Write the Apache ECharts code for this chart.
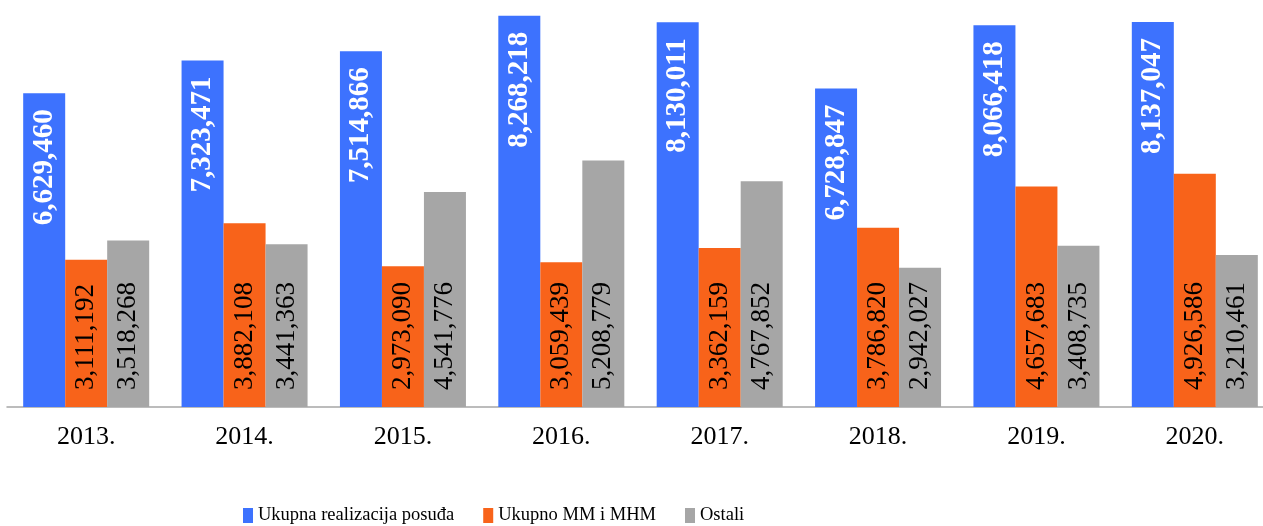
<!DOCTYPE html>
<html>
<head>
<meta charset="utf-8">
<script src="https://cdn.jsdelivr.net/npm/echarts@6/dist/echarts.min.js"></script>
<style>
	html, body { margin: 0; padding: 0; background: #fff; }
	#chart { width: 1263px; height: 526px; }
</style>
</head>
<body>
<div id="chart"></div>
<script>
	// 数据
	var years = ['2013.', '2014.', '2015.', '2016.', '2017.', '2018.', '2019.', '2020.'];
	var seriesNames = ['Ukupna realizacija posuđa', 'Ukupno MM i MHM', 'Ostali'];
	var ukupnaPosuda = [6629460, 7323471, 7514866, 8268218, 8130011, 6728847, 8066418, 8137047];
	var ukupnoMM = [3111192, 3882108, 2973090, 3059439, 3362159, 3786820, 4657683, 4926586];
	var ostali = [3518268, 3441363, 4541776, 5208779, 4767852, 2942027, 3408735, 3210461];

	var serif = '"Liberation Serif", "Times New Roman", serif';

	function fmt(p) {
		return p.value.toLocaleString('en-US');
	}

	let chart = echarts.init(document.getElementById('chart'));
	chart.setOption({
		animation: false,
		color: ['#3d72fe', '#f8631a', '#a6a6a6'],
		legend: {
			data: seriesNames,
			left: 243,
			top: 506,
			padding: 0,
			itemWidth: 10,
			itemHeight: 15,
			itemGap: 29,
			icon: 'rect',
			textStyle: {
				fontFamily: serif,
				fontSize: 18.5,
				color: '#000'
			}
		},
		grid: {
			left: 7,
			width: 1267,
			top: 0,
			bottom: 119,
			outerBoundsMode: 'none'
		},
		xAxis: {
			type: 'category',
			data: years,
			axisTick: { show: false },
			axisLine: { lineStyle: { color: '#a6a6a6', width: 1.5 } },
			axisLabel: {
				margin: 17,
				fontFamily: serif,
				fontSize: 26,
				color: '#000'
			}
		},
		yAxis: {
			type: 'value',
			min: 0,
			max: 8600000,
			show: false,
			splitLine: { show: false }
		},
		series: [{
				name: seriesNames[0],
				type: 'bar',
				barWidth: 42,
				barGap: '0%',
				data: ukupnaPosuda,
				label: {
					show: true,
					position: 'insideTop',
					rotate: 90,
					align: 'right',
					verticalAlign: 'middle',
					distance: 16,
					color: '#fff',
					fontWeight: 'bold',
					fontFamily: serif,
					fontSize: 29,
					formatter: fmt
				}
			},
			{
				name: seriesNames[1],
				type: 'bar',
				barWidth: 42,
				barGap: '0%',
				data: ukupnoMM,
				label: {
					show: true,
					position: 'insideBottom',
					rotate: 90,
					align: 'left',
					verticalAlign: 'middle',
					distance: 17,
					color: '#000',
					fontFamily: serif,
					fontSize: 27,
					formatter: fmt
				}
			},
			{
				name: seriesNames[2],
				type: 'bar',
				barWidth: 42,
				barGap: '0%',
				data: ostali,
				label: {
					show: true,
					position: 'insideBottom',
					rotate: 90,
					align: 'left',
					verticalAlign: 'middle',
					distance: 17,
					color: '#000',
					fontFamily: serif,
					fontSize: 27,
					formatter: fmt
				}
			}
		]
	});
</script>
</body>
</html>
